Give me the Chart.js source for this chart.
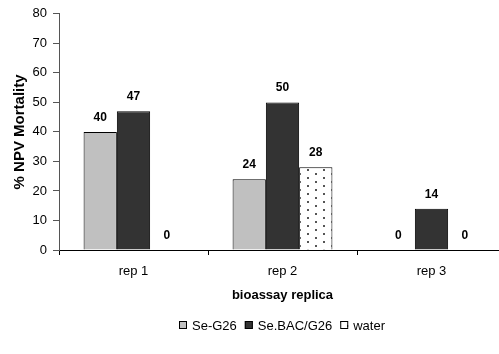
<!DOCTYPE html>
<html>
<head>
<meta charset="utf-8">
<script src="https://cdn.jsdelivr.net/npm/chart.js@4"></script>
<style>
  html,body{margin:0;padding:0;background:#fff;overflow:hidden;}
  #wrap{width:510px;height:354px;}
</style>
</head>
<body>
<div id="wrap"><canvas id="chart"></canvas></div>
<script>
// bioassay replica bar chart
const categories = ["rep 1", "rep 2", "rep 3"];
const seG26 = [40, 24, 0];
const seBAC = [47, 50, 14];
const water = [0, 28, 0];
const yTicks = [0, 10, 20, 30, 40, 50, 60, 70, 80];

const FONT = "'Liberation Sans', Arial, sans-serif";

// sparse staggered dots for the water bars
function dotPattern(){
  const c = document.createElement('canvas');
  c.width = 16; c.height = 8;
  const g = c.getContext('2d');
  g.fillStyle = '#fff'; g.fillRect(0,0,16,8);
  g.fillStyle = '#555';
  g.fillRect(3,1,2,2);
  g.fillRect(11,5,2,2);
  return g.createPattern(c, 'repeat');
}

// value labels above each bar
const valueLabels = {
  id: 'valueLabels',
  afterDatasetsDraw(chart){
    const ctx = chart.ctx;
    ctx.save();
    ctx.font = "bold 12px " + FONT;
    ctx.fillStyle = '#000';
    ctx.textAlign = 'center';
    ctx.textBaseline = 'alphabetic';
    chart.data.datasets.forEach((ds, di)=>{
      chart.getDatasetMeta(di).data.forEach((bar, i)=>{
        ctx.fillText(ds.data[i], bar.x, bar.y - 11);
      });
    });
    ctx.restore();
  }
};

// legend drawn under the axis title, centred on the plot
const bottomLegend = {
  id: 'bottomLegend',
  afterDraw(chart){
    const ctx = chart.ctx;
    const area = chart.chartArea;
    ctx.save();
    ctx.font = "13px " + FONT;
    ctx.textBaseline = 'middle';
    const box = 8, gap = 5, spacing = 8;
    const items = chart.data.datasets.map(ds=>({ds, w: ctx.measureText(ds.label).width}));
    const total = items.reduce((a,it)=>a + box + gap + it.w, 0) + spacing*(items.length-1);
    let x = Math.round((area.left + area.right)/2 - total/2);
    const y = 325;
    items.forEach(it=>{
      ctx.fillStyle = it.ds.backgroundColor;
      ctx.fillRect(x, y - box/2, box, box);
      ctx.strokeStyle = '#000'; ctx.lineWidth = 1;
      ctx.strokeRect(x + 0.5, y - box/2 + 0.5, box - 1, box - 1);
      ctx.fillStyle = '#000';
      ctx.fillText(it.ds.label, x + box + gap, y + 1);
      x += box + gap + it.w + spacing;
    });
    ctx.restore();
  }
};

const ctx = document.getElementById('chart').getContext('2d');
new Chart(ctx, {
  type: 'bar',
  data: {
    labels: categories,
    datasets: [
      { label: 'Se-G26', data: seG26, backgroundColor: '#c0c0c0', borderColor: '#000', borderWidth: 1 },
      { label: 'Se.BAC/G26', data: seBAC, backgroundColor: '#333333', borderColor: '#000', borderWidth: 1 },
      { label: 'water', data: water, backgroundColor: dotPattern(), borderColor: '#000', borderWidth: 1 }
    ]
  },
  options: {
    responsive: true,
    maintainAspectRatio: false,
    animation: false,
    layout: { padding: { top: 12, right: 4, left: 0, bottom: 0 } },
    datasets: { bar: { categoryPercentage: 0.67, barPercentage: 1.0 } },
    plugins: {
      tooltip: { enabled: false },
      legend: { display: false }
    },
    scales: {
      x: {
        afterFit(scale){ scale.height = 104; },
        grid: { display: true, drawOnChartArea: false, offset: true, color: '#000', tickLength: 5 },
        border: { color: '#000' },
        ticks: { font: { family: FONT, size: 13 }, color: '#000', padding: 9 },
        title: { display: true, text: 'bioassay replica', font: { family: FONT, size: 13, weight: 'bold' }, color: '#000', padding: { top: 4, bottom: 51 } }
      },
      y: {
        min: 0, max: 80,
        afterBuildTicks(scale){ scale.ticks = yTicks.map(v=>({value: v})); },
        afterFit(scale){ scale.width = 59; },
        grid: { display: true, drawOnChartArea: false, color: '#555', tickLength: 6 },
        border: { color: '#555' },
        ticks: { font: { family: FONT, size: 13 }, color: '#000', padding: 6 },
        title: { display: true, text: '% NPV Mortality', font: { family: FONT, size: 15, weight: 'bold' }, color: '#000', padding: { top: 11, bottom: 0 } }
      }
    }
  },
  plugins: [valueLabels, bottomLegend]
});
</script>
</body>
</html>
